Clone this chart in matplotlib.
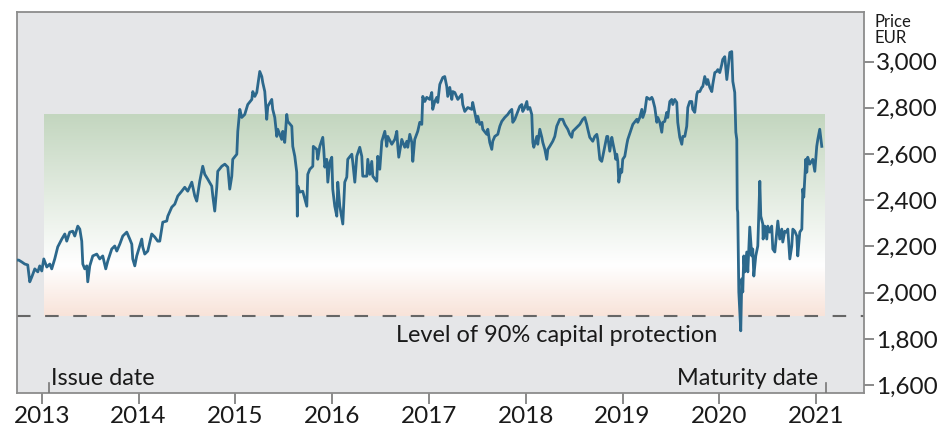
import numpy as np
import matplotlib
matplotlib.use("Agg")
import matplotlib.pyplot as plt
from matplotlib.colors import LinearSegmentedColormap

# price history (decimal years, EUR)
years = [
    2012.742, 2012.762, 2012.793, 2012.824, 2012.855, 2012.876, 2012.897, 2012.928, 2012.959, 2012.979,
    2013.000, 2013.021, 2013.052, 2013.083, 2013.103, 2013.134, 2013.165, 2013.207, 2013.238, 2013.258,
    2013.289, 2013.320, 2013.341, 2013.362, 2013.372, 2013.393, 2013.413, 2013.424, 2013.444, 2013.465,
    2013.475, 2013.496, 2013.527, 2013.568, 2013.599, 2013.630, 2013.661, 2013.682, 2013.723, 2013.754,
    2013.775, 2013.806, 2013.837, 2013.878, 2013.909, 2013.930, 2013.940, 2013.961, 2013.981, 2014.012,
    2014.033, 2014.043, 2014.064, 2014.095, 2014.136, 2014.167, 2014.198, 2014.219, 2014.250, 2014.291,
    2014.302, 2014.343, 2014.374, 2014.405, 2014.446, 2014.477, 2014.508, 2014.550, 2014.581, 2014.601,
    2014.632, 2014.663, 2014.684, 2014.715, 2014.756, 2014.767, 2014.787, 2014.808, 2014.818, 2014.860,
    2014.891, 2014.922, 2014.942, 2014.963, 2014.973, 2015.015, 2015.025, 2015.046, 2015.066, 2015.097,
    2015.128, 2015.170, 2015.180, 2015.201, 2015.221, 2015.252, 2015.273, 2015.283, 2015.304, 2015.324,
    2015.335, 2015.376, 2015.386, 2015.407, 2015.428, 2015.438, 2015.479, 2015.490, 2015.510, 2015.531,
    2015.541, 2015.583, 2015.593, 2015.614, 2015.634, 2015.640, 2015.645, 2015.665, 2015.696, 2015.738,
    2015.748, 2015.769, 2015.800, 2015.805, 2015.841, 2015.851, 2015.872, 2015.903, 2015.913, 2015.924,
    2015.944, 2015.955, 2015.975, 2015.996, 2016.006, 2016.027, 2016.048, 2016.058, 2016.079, 2016.110,
    2016.130, 2016.151, 2016.161, 2016.203, 2016.213, 2016.234, 2016.254, 2016.285, 2016.306, 2016.316,
    2016.358, 2016.368, 2016.389, 2016.409, 2016.420, 2016.461, 2016.471, 2016.492, 2016.513, 2016.544,
    2016.564, 2016.575, 2016.616, 2016.647, 2016.668, 2016.678, 2016.688, 2016.719, 2016.750, 2016.771,
    2016.781, 2016.802, 2016.823, 2016.833, 2016.853, 2016.884, 2016.905, 2016.926, 2016.936, 2016.957,
    2016.977, 2017.008, 2017.029, 2017.039, 2017.060, 2017.081, 2017.091, 2017.112, 2017.143, 2017.163,
    2017.184, 2017.194, 2017.215, 2017.236, 2017.246, 2017.267, 2017.298, 2017.339, 2017.349, 2017.370,
    2017.401, 2017.442, 2017.452, 2017.473, 2017.494, 2017.504, 2017.525, 2017.546, 2017.556, 2017.597,
    2017.608, 2017.628, 2017.649, 2017.659, 2017.680, 2017.711, 2017.732, 2017.752, 2017.783, 2017.814,
    2017.835, 2017.856, 2017.866, 2017.887, 2017.918, 2017.938, 2017.959, 2017.969, 2017.990, 2018.011,
    2018.021, 2018.042, 2018.062, 2018.073, 2018.083, 2018.114, 2018.124, 2018.145, 2018.166, 2018.176,
    2018.197, 2018.217, 2018.228, 2018.248, 2018.279, 2018.300, 2018.320, 2018.351, 2018.382, 2018.403,
    2018.434, 2018.455, 2018.475, 2018.486, 2018.527, 2018.558, 2018.589, 2018.610, 2018.630, 2018.641,
    2018.661, 2018.692, 2018.713, 2018.734, 2018.744, 2018.765, 2018.785, 2018.796, 2018.816, 2018.837,
    2018.847, 2018.868, 2018.889, 2018.899, 2018.920, 2018.930, 2018.940, 2018.951, 2018.961, 2018.982,
    2018.992, 2019.002, 2019.023, 2019.044, 2019.054, 2019.095, 2019.106, 2019.147, 2019.157, 2019.178,
    2019.199, 2019.209, 2019.230, 2019.250, 2019.281, 2019.302, 2019.312, 2019.333, 2019.354, 2019.364,
    2019.385, 2019.405, 2019.416, 2019.436, 2019.457, 2019.467, 2019.488, 2019.508, 2019.519, 2019.539,
    2019.560, 2019.570, 2019.591, 2019.612, 2019.622, 2019.643, 2019.663, 2019.674, 2019.694, 2019.715,
    2019.725, 2019.746, 2019.767, 2019.777, 2019.798, 2019.818, 2019.829, 2019.849, 2019.870, 2019.880,
    2019.901, 2019.922, 2019.932, 2019.953, 2019.973, 2019.984, 2020.004, 2020.025, 2020.035, 2020.056,
    2020.077, 2020.087, 2020.108, 2020.128, 2020.139, 2020.159, 2020.170, 2020.180, 2020.185, 2020.190,
    2020.201, 2020.221, 2020.232, 2020.242, 2020.252, 2020.263, 2020.283, 2020.294, 2020.314, 2020.335,
    2020.345, 2020.356, 2020.376, 2020.397, 2020.418, 2020.428, 2020.449, 2020.452, 2020.469, 2020.490,
    2020.500, 2020.521, 2020.541, 2020.552, 2020.573, 2020.593, 2020.604, 2020.624, 2020.645, 2020.655,
    2020.676, 2020.696, 2020.707, 2020.728, 2020.748, 2020.759, 2020.779, 2020.800, 2020.810, 2020.831,
    2020.852, 2020.862, 2020.872, 2020.893, 2020.903, 2020.913, 2020.934, 2020.965, 2020.986, 2021.006,
    2021.017, 2021.037, 2021.058,
]
prices = [
    2141, 2141, 2133, 2124, 2120, 2047, 2068, 2103, 2090, 2116,
    2094, 2146, 2111, 2124, 2103, 2146, 2198, 2232, 2254, 2223,
    2262, 2266, 2245, 2275, 2288, 2275, 2223, 2124, 2103, 2116,
    2047, 2116, 2159, 2167, 2146, 2159, 2103, 2137, 2189, 2202,
    2180, 2210, 2245, 2262, 2232, 2210, 2146, 2116, 2159, 2202,
    2232, 2198, 2167, 2180, 2254, 2241, 2223, 2223, 2305, 2310,
    2331, 2370, 2383, 2418, 2439, 2456, 2439, 2478, 2418, 2396,
    2482, 2547, 2512, 2491, 2461, 2418, 2353, 2456, 2525, 2547,
    2556, 2543, 2448, 2504, 2577, 2599, 2698, 2793, 2758, 2771,
    2814, 2836, 2870, 2849, 2866, 2957, 2935, 2909, 2870, 2750,
    2806, 2836, 2793, 2758, 2676, 2707, 2663, 2698, 2650, 2771,
    2741, 2720, 2633, 2590, 2521, 2331, 2461, 2435, 2439, 2374,
    2512, 2534, 2547, 2633, 2620, 2577, 2633, 2672, 2620, 2543,
    2577, 2478, 2564, 2586, 2448, 2374, 2331, 2478, 2374, 2297,
    2478, 2500, 2577, 2599, 2564, 2478, 2590, 2629, 2590, 2504,
    2504, 2577, 2512, 2568, 2504, 2482, 2590, 2534, 2655, 2698,
    2633, 2676, 2642, 2663, 2698, 2633, 2586, 2663, 2629, 2655,
    2629, 2685, 2650, 2568, 2663, 2698, 2737, 2728, 2849, 2827,
    2845, 2836, 2866, 2793, 2827, 2845, 2823, 2901, 2931, 2935,
    2892, 2849, 2888, 2836, 2870, 2866, 2836, 2858, 2814, 2784,
    2801, 2793, 2823, 2780, 2737, 2763, 2728, 2737, 2707, 2685,
    2707, 2650, 2620, 2655, 2676, 2685, 2720, 2741, 2758, 2771,
    2784, 2793, 2737, 2750, 2784, 2806, 2814, 2784, 2801, 2827,
    2793, 2801, 2771, 2650, 2629, 2676, 2642, 2707, 2672, 2650,
    2620, 2577, 2620, 2633, 2655, 2676, 2720, 2750, 2750, 2728,
    2707, 2685, 2672, 2698, 2715, 2728, 2750, 2758, 2728, 2707,
    2672, 2655, 2676, 2685, 2663, 2577, 2568, 2590, 2633, 2676,
    2676, 2612, 2672, 2650, 2607, 2577, 2599, 2568, 2478, 2534,
    2521, 2577, 2590, 2642, 2663, 2715, 2728, 2750, 2737, 2758,
    2793, 2758, 2784, 2845, 2836, 2845, 2836, 2801, 2737, 2758,
    2737, 2694, 2737, 2741, 2780, 2758, 2827, 2836, 2814, 2836,
    2823, 2737, 2672, 2642, 2676, 2676, 2720, 2801, 2827, 2827,
    2793, 2780, 2858, 2870, 2870, 2888, 2892, 2935, 2901, 2922,
    2888, 2870, 2901, 2952, 2957, 2965, 2952, 2987, 3009, 3021,
    2922, 2960, 3039, 3043, 2914, 2866, 2694, 2663, 2361, 2348,
    2003, 1835, 2060, 2003, 2159, 2090, 2176, 2090, 2284, 2159,
    2189, 2072, 2159, 2202, 2482, 2331, 2297, 2232, 2288, 2232,
    2288, 2262, 2288, 2189, 2176, 2262, 2310, 2232, 2275, 2219,
    2266, 2262, 2275, 2146, 2202, 2275, 2266, 2245, 2159, 2262,
    2275, 2448, 2413, 2577, 2521, 2586, 2556, 2577, 2525, 2633,
    2663, 2707, 2633,
]

year_ticks = [2013, 2014, 2015, 2016, 2017, 2018, 2019, 2020, 2021]
price_ticks = [1600, 1800, 2000, 2200, 2400, 2600, 2800, 3000]

issue_date = 2013.07
maturity_date = 2021.10
shade_start, shade_end = 2013.02, 2021.08
protection_level = 1900
cap_level = 2770

plt.rcParams['font.family'] = ['Lato', 'DejaVu Sans']

fig = plt.figure(figsize=(9.49, 4.30), dpi=100)
ax = fig.add_axes([0.018, 0.086, 0.892, 0.886])
ax.set_facecolor('#e5e6e8')

# green -> white -> pink band between protection level and cap
cmap = LinearSegmentedColormap.from_list('band', [(0, '#f8e3d9'), (0.25, '#ffffff'), (1, '#c3d6bf')])
grad = np.linspace(0, 1, 256).reshape(-1, 1)
ax.imshow(grad, cmap=cmap, origin='lower', aspect='auto', zorder=1,
          extent=[shade_start, shade_end, protection_level, cap_level])

ax.axhline(protection_level, color='#666666', lw=1.5, linestyle=(0, (6.5, 7)), zorder=2)
ax.plot(years, prices, color='#2c688c', lw=2.0, zorder=3)

ax.set_xlim(2012.745, 2021.49)
ax.set_ylim(1566, 3214)

ax.set_xticks(year_ticks)
ax.set_xticklabels([str(y) for y in year_ticks])
ax.set_yticks(price_ticks)
ax.set_yticklabels([f"{p:,}" for p in price_ticks])
ax.yaxis.tick_right()
ax.tick_params(axis='both', colors='#777777', labelcolor='#1a1a1a', labelsize=17.5, width=1.2)
ax.tick_params(axis='x', length=8, pad=1)
ax.tick_params(axis='y', length=7, pad=2)

for s in ax.spines.values():
    s.set_color('#8c8c8c')
    s.set_linewidth(1.3)

# issue / maturity markers inside the bottom of the plot
for d in (issue_date, maturity_date):
    ax.axvline(d, ymin=0, ymax=0.027, color='#777777', lw=1.2, zorder=4)
ax.text(issue_date + 0.03, 1627, 'Issue date', fontsize=16.9, ha='left', va='center', color='#1a1a1a')
ax.text(maturity_date - 0.08, 1627, 'Maturity date', fontsize=16.9, ha='right', va='center', color='#1a1a1a')
ax.text(2018.32, 1815, 'Level of 90% capital protection', fontsize=16.9, ha='center', va='center', color='#1a1a1a')

fig.text(0.921, 0.93, 'Price\nEUR', fontsize=12, ha='left', va='center', color='#1a1a1a', linespacing=1.0)

fig.savefig('out.png', dpi=100, facecolor='white')
